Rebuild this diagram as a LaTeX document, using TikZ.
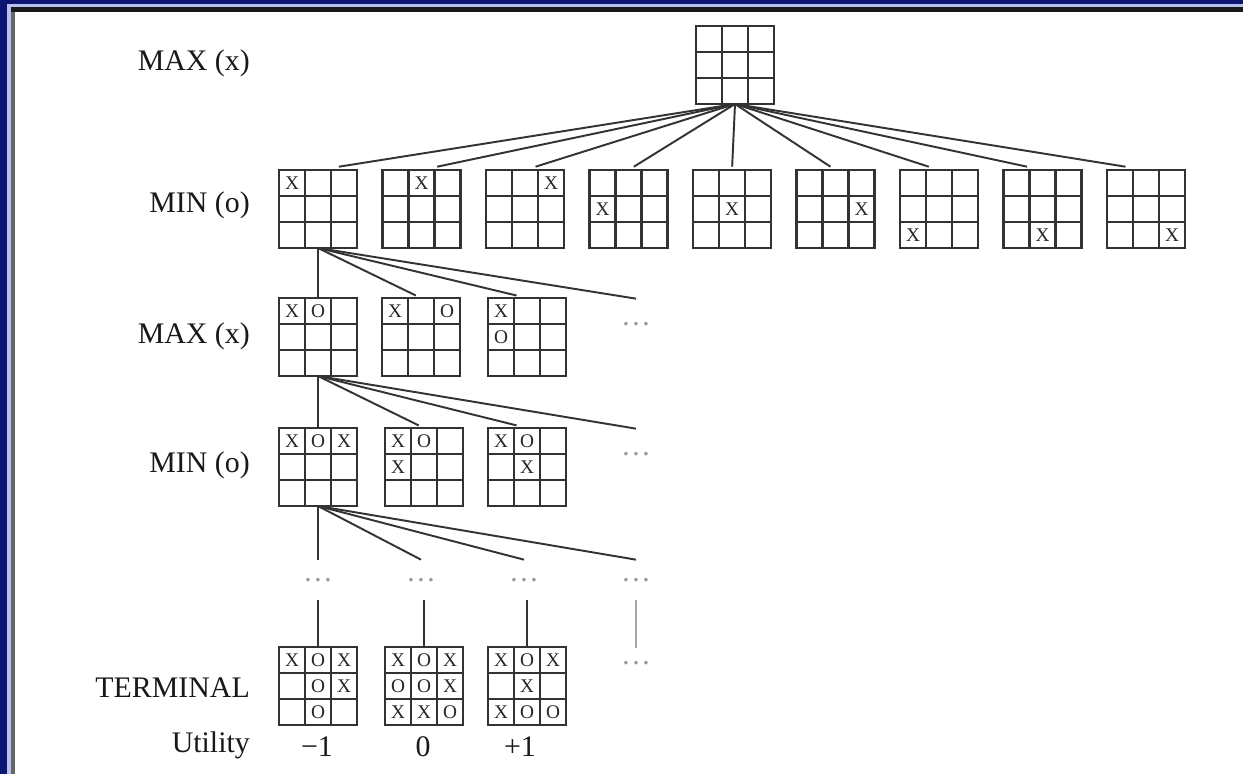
\documentclass[tikz,border=0pt]{standalone}
\usepackage{fontspec}
\setmainfont{Liberation Serif}
\usetikzlibrary{positioning,calc}
\definecolor{frameblue}{RGB}{12,22,112}
\definecolor{framelight}{RGB}{182,192,240}

\tikzset{
  board/.style={draw=black!80,line width=1.6pt,minimum size=1.56cm,inner sep=0pt,outer sep=0pt},
  gridline/.style={black!80,line width=1.6pt},
  mk/.style={font=\fontsize{11}{11}\selectfont,text=black!85,inner sep=0pt},
  lbl/.style={anchor=east,font=\fontsize{17}{20}\selectfont,text=black!90},
  val/.style={font=\fontsize{17}{20}\selectfont,text=black!90},
  more/.style={text=black!40,minimum height=1cm,inner sep=0pt,font=\fontsize{17}{20}\selectfont},
  edge/.style={black!80,line width=1.1pt}
}

% board: node plus inner grid
\newcommand{\tttboard}[2]{%
  \node[board] (#1) at (#2) {};
  \draw[gridline] ([xshift=0.52cm]#1.north west) -- ([xshift=0.52cm]#1.south west)
    ([xshift=-0.52cm]#1.north east) -- ([xshift=-0.52cm]#1.south east)
    ([yshift=-0.52cm]#1.north west) -- ([yshift=-0.52cm]#1.north east)
    ([yshift=0.52cm]#1.south west) -- ([yshift=0.52cm]#1.south east);
}
% marks: row/col/letter
\newcommand{\tttmarks}[2]{%
  \foreach \r/\c/\m in {#2}
    \node[mk] at ([shift={(\c*26-13,\r*26-13)}]#1.north west) {\m};
}

\begin{document}
\begin{tikzpicture}[x=0.02cm,y=-0.02cm]
% frame
\fill[frameblue] (0,0) rectangle (1243,774);
\fill[framelight] (7,4) rectangle (1243,774);
\fill[black!60] (11,7) rectangle (1243,774);
\fill[black!90] (11,7) rectangle (1243,12);
\fill[white] (15,12) rectangle (1243,774);

% level labels
\node[lbl] (lmax0) at (256,63) {MAX (x)};
\node[lbl] (lmin1) at (256,205) {MIN (o)};
\node[lbl] (lmax2) at (256,336) {MAX (x)};
\node[lbl] (lmin3) at (256,465) {MIN (o)};
\node[lbl] (lterm) at (256,688) {TERMINAL};
\node[lbl] (lutil) at (256,745) {Utility};

% root and the nine first moves
\tttboard{root}{735,65}
\foreach \k/\i/\j [evaluate=\k as \bx using 318+103.5*(\k-1)] in
    {1/1/1,2/1/2,3/1/3,4/2/1,5/2/2,6/2/3,7/3/1,8/3/2,9/3/3}{
  \tttboard{a\k}{\bx,209}
  \tttmarks{a\k}{\i/\j/X}
  \draw[edge] (root.south) -- ($(a\k.north)!0.05!(root.south)$);
}

% second level
\tttboard{b1}{318,337} \tttmarks{b1}{1/1/X,1/2/O}
\tttboard{b2}{421,337} \tttmarks{b2}{1/1/X,1/3/O}
\tttboard{b3}{527,337} \tttmarks{b3}{1/1/X,2/1/O}
\node[more] (b4) at (636,324) {\dots};
\draw[edge] (a1.south) -- (b1.north);
\foreach \n in {b2,b3}
  \draw[edge] (a1.south) -- ($(\n.north)!0.05!(a1.south)$);
\draw[edge] (a1.south) -- (b4.north);

% third level
\tttboard{c1}{318,467} \tttmarks{c1}{1/1/X,1/2/O,1/3/X}
\tttboard{c2}{424,467} \tttmarks{c2}{1/1/X,1/2/O,2/1/X}
\tttboard{c3}{527,467} \tttmarks{c3}{1/1/X,1/2/O,2/2/X}
\node[more] (c4) at (636,454) {\dots};
\draw[edge] (b1.south) -- (c1.north);
\foreach \n in {c2,c3}
  \draw[edge] (b1.south) -- ($(\n.north)!0.05!(b1.south)$);
\draw[edge] (b1.south) -- (c4.north);

% skipped levels
\foreach \n/\x in {d1/318,d2/421,d3/524,d4/636}{
  \node[more,minimum height=0.8cm] (\n) at (\x,580) {\dots};
  \draw[edge] (c1.south) -- (\n.north);
}
\node[more,minimum height=0.6cm] (d5) at (636,663) {\dots};
\draw[black!35,line width=1.1pt] (d4.south) -- (d5.north);

% terminal states
\tttboard{t1}{318,686} \tttmarks{t1}{1/1/X,1/2/O,1/3/X,2/2/O,2/3/X,3/2/O}
\tttboard{t2}{424,686} \tttmarks{t2}{1/1/X,1/2/O,1/3/X,2/1/O,2/2/O,2/3/X,3/1/X,3/2/X,3/3/O}
\tttboard{t3}{527,686} \tttmarks{t3}{1/1/X,1/2/O,1/3/X,2/2/X,3/1/X,3/2/O,3/3/O}
\foreach \n/\m in {t1/d1,t2/d2,t3/d3}
  \draw[edge] (\n.north) -- (\n.north |- \m.south);

% utilities
\node[val] (u1) at (317,747) {−1};
\node[val] (u2) at (423,747) {0};
\node[val] (u3) at (520,747) {+1};
\end{tikzpicture}
\end{document}
